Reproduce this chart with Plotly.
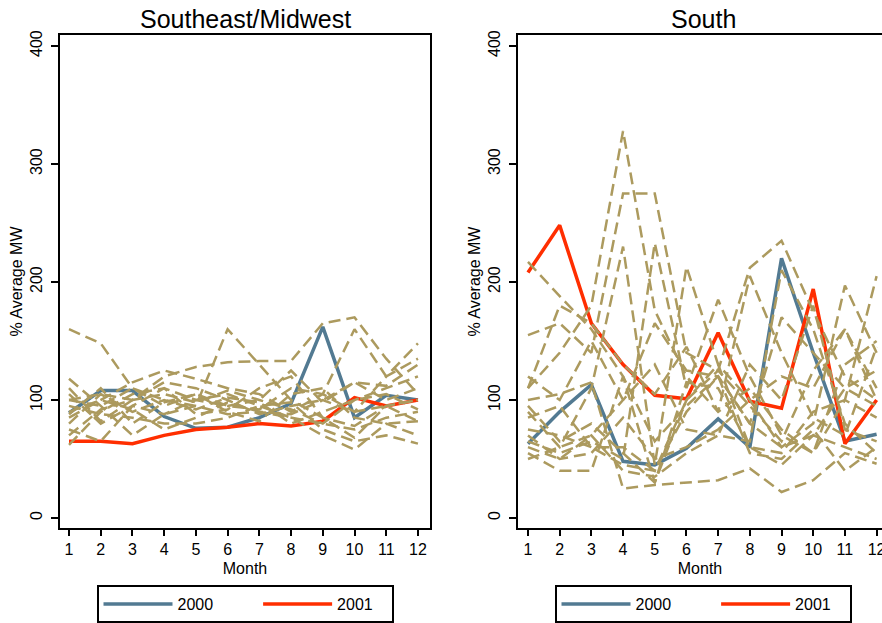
import plotly.graph_objects as go

months = list(range(1, 13))
y_ticks = [0, 100, 200, 300, 400]

# Southeast/Midwest
se_2000 = [89, 108, 108, 86, 76, 77, 85, 97, 162, 85, 104, 100]
se_2001 = [65, 65, 63, 70, 75, 77, 80, 78, 82, 102, 95, 100]
se_other = [
    [160, 148, 110, 100, 95, 88, 90, 85, 80, 75, 85, 90],
    [118, 95, 70, 88, 95, 160, 130, 100, 85, 68, 95, 100],
    [100, 105, 100, 120, 128, 132, 133, 133, 165, 170, 135, 105],
    [85, 100, 115, 125, 118, 110, 105, 90, 105, 160, 120, 148],
    [62, 90, 105, 110, 100, 95, 100, 125, 98, 115, 112, 130],
    [75, 65, 95, 88, 100, 105, 95, 85, 70, 58, 80, 70],
    [90, 100, 92, 75, 85, 98, 90, 88, 100, 90, 95, 82],
    [110, 82, 100, 115, 110, 100, 88, 95, 100, 115, 100, 110],
    [95, 88, 85, 80, 80, 85, 95, 98, 75, 65, 70, 63],
    [80, 105, 90, 100, 92, 102, 98, 80, 90, 100, 105, 92],
    [100, 95, 110, 95, 105, 90, 82, 105, 110, 85, 80, 82],
    [70, 92, 100, 105, 98, 108, 100, 92, 80, 100, 110, 120],
    [105, 80, 95, 110, 88, 92, 110, 120, 85, 78, 95, 100],
    [88, 110, 80, 98, 105, 95, 92, 110, 105, 90, 120, 135],
]

# South
south_2000 = [63, 90, 113, 48, 45, 59, 84, 60, 220, 140, 65, 71]
south_2001 = [208, 248, 165, 130, 104, 101, 157, 99, 93, 194, 63, 100]
south_other = [
    [217, 188, 160, 120, 65, 95, 120, 80, 60, 70, 110, 95],
    [110, 140, 180, 328, 176, 120, 90, 110, 75, 55, 130, 150],
    [155, 165, 140, 275, 275, 140, 125, 212, 235, 175, 120, 100],
    [90, 60, 110, 230, 45, 213, 130, 100, 60, 80, 197, 140],
    [65, 55, 65, 50, 233, 110, 185, 120, 70, 55, 100, 205],
    [55, 40, 40, 120, 30, 100, 130, 60, 45, 70, 60, 50],
    [100, 105, 115, 25, 28, 30, 32, 42, 22, 32, 55, 46],
    [75, 70, 60, 60, 40, 90, 120, 55, 50, 75, 40, 60],
    [70, 50, 55, 85, 50, 60, 75, 100, 120, 110, 160, 100],
    [110, 180, 165, 130, 105, 145, 90, 205, 140, 85, 70, 145],
    [95, 65, 80, 55, 30, 115, 110, 60, 55, 90, 100, 85],
    [60, 50, 70, 40, 35, 55, 70, 65, 210, 160, 80, 55],
    [120, 100, 150, 100, 165, 125, 120, 80, 170, 140, 110, 125],
    [50, 60, 70, 100, 130, 75, 70, 130, 100, 180, 75, 65],
    [85, 95, 60, 45, 40, 100, 125, 95, 65, 125, 160, 110],
]

series_names = ["2000", "2001"]

BLUE = "#527A92"
RED = "#FF2E00"
TAN = "#AC9A5E"
FONT = "Liberation Sans, Arial, sans-serif"
NBSP = "\u00a0"
name_pad = [NBSP * 9, NBSP * 3]  # spacing of legend entries

W, H = 882, 623
fig = go.Figure()

panels = [
    ("x", "y", "legend", se_2000, se_2001, se_other),
    ("x2", "y2", "legend2", south_2000, south_2001, south_other),
]
for xa, ya, lg, s0, s1, others in panels:
    for vals, nm, pad, col in [(s0, series_names[0], name_pad[0], BLUE),
                               (s1, series_names[1], name_pad[1], RED)]:
        fig.add_trace(go.Scatter(x=months, y=vals, mode="lines", name=nm + pad,
                                 line=dict(color=col, width=3.5), xaxis=xa, yaxis=ya,
                                 legend=lg, hovertemplate=nm + ": %{y}<extra></extra>"))
    for s in others:
        fig.add_trace(go.Scatter(x=months, y=s, mode="lines", showlegend=False,
                                 line=dict(color=TAN, width=2.5, dash="12px,6px"),
                                 xaxis=xa, yaxis=ya, hoverinfo="skip"))

ydom = [95 / H, 588 / H]
common_x = dict(tickvals=months, ticks="outside", ticklen=6, tickwidth=1.5,
                tickcolor="black", showline=True, linewidth=2, linecolor="black",
                showgrid=False, zeroline=False, tickfont=dict(size=16, color="black"),
                ticklabeloverflow="allow",
                title=dict(text="Month", font=dict(size=16, color="black"), standoff=6))
common_y = dict(tickvals=y_ticks, ticks="outside", ticklen=7, tickwidth=1.5,
                tickcolor="black", showline=True, linewidth=2, linecolor="black",
                showgrid=False, zeroline=False, tickangle=-90, ticklabelstandoff=3,
                tickfont=dict(size=16, color="black"), range=[-8.47, 409.3],
                domain=ydom,
                title=dict(text="% Average MW", font=dict(size=16, color="black"), standoff=1))

legend_common = dict(y=(H - 604) / H, xanchor="center", yanchor="middle",
                     orientation="h", bordercolor="black", borderwidth=2,
                     font=dict(size=16, color="black"), itemwidth=69)

fig.update_layout(
    width=W, height=H,
    margin=dict(l=0, r=0, t=0, b=0, autoexpand=False),
    paper_bgcolor="white", plot_bgcolor="white",
    font=dict(family=FONT, color="black"),
    xaxis=dict(common_x, domain=[60 / W, 430 / W], range=[0.716, 12.38], mirror=True, anchor="y"),
    yaxis=dict(common_y, mirror=True, anchor="x"),
    xaxis2=dict(common_x, domain=[518 / W, 1.0], range=[0.685, 12.17], mirror=True, anchor="y2"),
    yaxis2=dict(common_y, mirror=False, anchor="x2"),
    legend=dict(legend_common, x=245 / W),
    legend2=dict(legend_common, x=703 / W),
    annotations=[
        dict(text="Southeast/Midwest", x=245 / W, y=(H - 19) / H, xref="paper", yref="paper",
             showarrow=False, font=dict(size=25, color="black"), xanchor="center", yanchor="middle"),
        dict(text="South", x=703 / W, y=(H - 19) / H, xref="paper", yref="paper",
             showarrow=False, font=dict(size=25, color="black"), xanchor="center", yanchor="middle"),
    ],
)

fig.write_html("out.html")
